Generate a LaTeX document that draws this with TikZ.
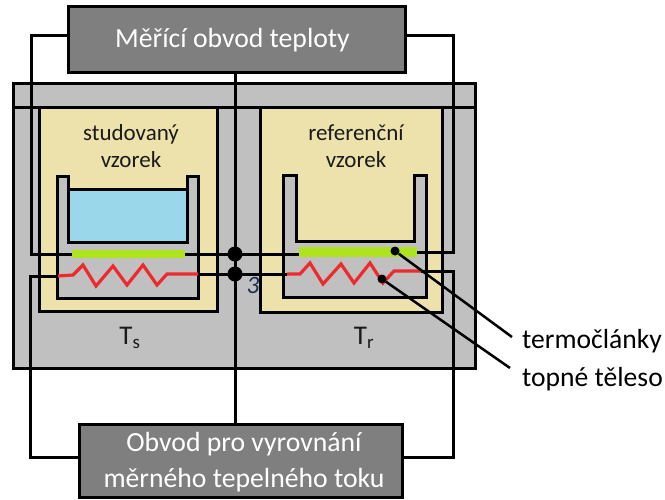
\documentclass[tikz,border=0pt]{standalone}
\usepackage{fontspec}
\setmainfont{Carlito}
\definecolor{boxgray}{HTML}{7F7F7F}
\definecolor{outergray}{HTML}{C0C0C0}
\definecolor{sand}{HTML}{EEE2AC}
\definecolor{skyb}{HTML}{9BD7EA}
\definecolor{limeg}{HTML}{AEE31E}
\definecolor{heatred}{HTML}{EE2A2F}
\definecolor{labelcol}{HTML}{1A1A1A}
\definecolor{threecol}{HTML}{1F3050}
\tikzset{
  blk/.style={draw=black,line width=3pt,inner sep=0pt,outer sep=0pt,anchor=north west,rectangle},
  ctrl/.style={blk,fill=boxgray},
  zone/.style={blk,fill=outergray},
  samplebox/.style={blk,fill=sand},
  crucible/.style={draw=black,line width=3pt,fill=outergray,line join=miter},
  liquid/.style={blk,fill=skyb},
  plate/.style={fill=limeg,inner sep=0pt,outer sep=0pt,anchor=north west,rectangle},
  wire/.style={draw=black,line width=3pt,line join=miter},
  thinw/.style={draw=black,line width=2.5pt},
  heat/.style={draw=heatred,line width=3.2pt,line join=miter},
  bigdot/.style={circle,fill=black,minimum size=15pt,inner sep=0pt},
  smalldot/.style={circle,fill=black,minimum size=9pt,inner sep=0pt},
  lab/.style={text=labelcol,font=\fontsize{23}{26.5}\selectfont,align=center,inner sep=0pt},
  sidelab/.style={text=black,font=\fontsize{27.6}{32}\selectfont,inner sep=0pt,anchor=west},
  templab/.style={text=labelcol,font=\fontsize{27}{32}\selectfont,inner sep=0pt},
  ctrltext/.style={text=white,font=\fontsize{27.7}{36}\selectfont,align=center,inner sep=0pt},
}
\begin{document}
\begin{tikzpicture}[x=1pt,y=-1pt]
\useasboundingbox (0,0) rectangle (665,499);
% housing
\node[zone,minimum width=462pt,minimum height=285pt] (housing) at (13,83) {};
\coordinate (bandL) at (13,107);
\coordinate (bandR) at (475,107);
\draw[wire] (bandL) -- (bandR);
% sample chambers
\node[samplebox,minimum width=178pt,minimum height=204pt] (chamS) at (39,107) {};
\node[samplebox,minimum width=182pt,minimum height=205pt] (chamR) at (260,107) {};
% crucibles
\draw[crucible] (57,176) -- (68,176) -- (68,242) -- (187,242) -- (187,176) -- (198,176) -- (198,298) -- (57,298) -- cycle;
\draw[crucible] (283,175) -- (296,175) -- (296,241) -- (414,241) -- (414,175) -- (426,175) -- (426,297) -- (283,297) -- cycle;
\node[liquid,minimum width=119pt,minimum height=53pt] (liquidS) at (68,189) {};
% plates
\node[plate,minimum width=113pt,minimum height=8pt] (plateS) at (72,250) {};
\node[plate,minimum width=118pt,minimum height=10pt] (plateR) at (299,247) {};
% control boxes
\node[ctrl,minimum width=337pt,minimum height=66pt] (meas) at (68,6) {};
\node[ctrl,minimum width=323pt,minimum height=73pt] (comp) at (79,424) {};
\node[ctrltext] (measT) at (232.5,40) {Měřící obvod teploty};
\node[ctrltext] (compT) at (244,462) {Obvod pro vyrovnání\\měrného tepelného toku};
% named wire points
\coordinate (mL) at (68,35);
\coordinate (mR) at (405,35);
\coordinate (cL) at (79,457);
\coordinate (cR) at (402,457);
\coordinate (hSL) at (58,276);
\coordinate (hSR) at (198,274);
\coordinate (hRL) at (287,274);
\coordinate (hRR) at (421,271);
% dots
\coordinate (dotA) at (235,254);
\coordinate (dotB) at (235,274);
% centre line
\draw[wire] (meas.south -| dotA) -- (comp.north -| dotA);
% thermocouple wires
\draw[wire] (mL) -- (31,35) -- (31,254) -- (plateS.west);
\draw[wire] (plateS.east) -- (dotA);
\draw[wire] (dotA) -- (plateR.west |- dotA);
\draw[wire] (plateR.east) -- (453,252) -- (453,35) -- (mR);
% heater wires
\draw[wire] (cL) -- (30,457) -- (30,276) -- (hSL);
\draw[wire] (hSR) -- (dotB) -- (hRL);
\draw[wire] (hRR) -- (453,271) -- (453,457) -- (cR);
% heaters
\draw[heat] (hSL) -- (73,275) -- (83,265) -- (96,286) -- (113,266) -- (127,285) -- (143,265) -- (157,285) -- (167,274) -- (hSR);
\draw[heat] (hRL) -- (300,274) -- (310,263) -- (323,284) -- (341,264) -- (354,283) -- (370,263) -- (383,283) -- (394,271) -- (hRR);
% junction dots
\node[bigdot] (jA) at (dotA) {};
\node[bigdot] (jB) at (dotB) {};
\node[smalldot] (tc) at (395,251) {};
\node[smalldot] (ht) at (382,279) {};
% leader lines
\coordinate (leadA) at (512,337);
\coordinate (leadB) at (510,368);
\draw[thinw] (tc) -- (leadA);
\draw[thinw] (ht) -- (leadB);
% labels
\node[lab] (lS) at (131,146) {studovaný\\vzorek};
\node[lab] (lR) at (356,146) {referenční\\vzorek};
\node[templab] (Ts) at (130,338) {T\textsubscript{s}};
\node[templab] (Tr) at (364,338) {T\textsubscript{r}};
\node[text=threecol,font=\itshape\fontsize{25}{28}\selectfont,inner sep=0pt] (three) at (253,285) {3};
\node[sidelab] (lTerm) at (522,341) {termočlánky};
\node[sidelab] (lTop) at (522,379) {topné těleso};
\end{tikzpicture}
\end{document}
